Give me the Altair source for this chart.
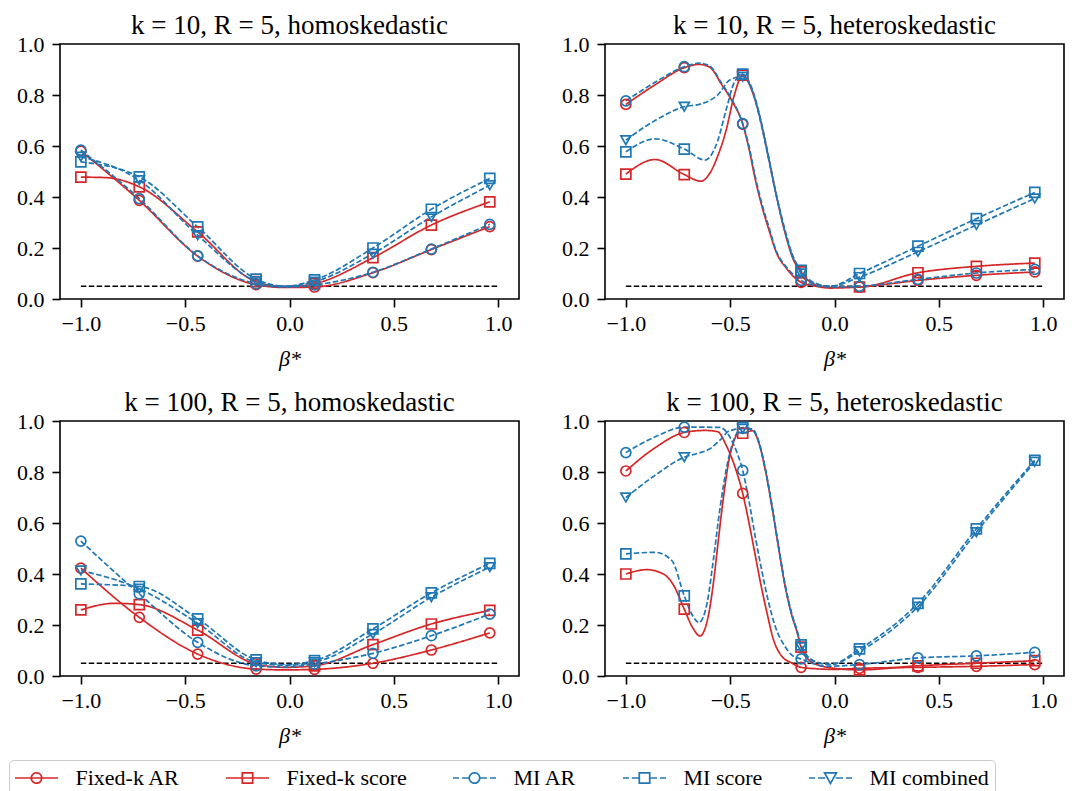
import altair as alt
import pandas as pd

# ---------------- data ----------------
BETA = [-1.0, -0.72, -0.44, -0.16, 0.12, 0.40, 0.68, 0.96]
SERIES = ["Fixed-k AR", "Fixed-k score", "MI AR", "MI score", "MI combined"]
STYLE = ["fk-ar", "fk-score", "mi-ar", "mi-score", "mi-comb"]
COLORS = ["#d62728", "#d62728", "#1f77b4", "#1f77b4", "#1f77b4"]
SHAPES = ["circle", "square", "circle", "square", "triangle-down"]
DASHES = [[1, 0], [1, 0], [5.5, 2.4], [5.5, 2.4], [5.5, 2.4]]
TITLES = ["k = 10, R = 5, homoskedastic", "k = 10, R = 5, heteroskedastic",
          "k = 100, R = 5, homoskedastic", "k = 100, R = 5, heteroskedastic"]
REF_X = [-1.0, 1.0]
REF_Y = [0.05, 0.05]
X_TICKS = [-1.0, -0.5, 0.0, 0.5, 1.0]
Y_TICKS = [0.0, 0.2, 0.4, 0.6, 0.8, 1.0]

# panel A: k=10 homoskedastic (values at marker positions)
A_FK_AR = [0.580, 0.387, 0.168, 0.056, 0.047, 0.103, 0.194, 0.284]
A_FK_SC = [0.478, 0.440, 0.263, 0.068, 0.060, 0.162, 0.290, 0.381]
A_MI_AR = [0.584, 0.394, 0.169, 0.060, 0.055, 0.105, 0.196, 0.293]
A_MI_SC = [0.538, 0.479, 0.283, 0.078, 0.075, 0.200, 0.352, 0.473]
A_MI_CB = [0.558, 0.466, 0.250, 0.070, 0.068, 0.178, 0.322, 0.446]
# extra points read along the curves between markers
A_FK_AR_EX = [(-0.02, 0.045)]
A_FK_SC_EX = [(-0.88, 0.476), (-0.02, 0.048)]
A_MI_AR_EX = [(-0.02, 0.047)]
A_MI_SC_EX = [(-0.02, 0.050)]
A_MI_CB_EX = [(-0.02, 0.049)]

# panel B: k=10 heteroskedastic
B_FK_AR = [0.763, 0.907, 0.686, 0.065, 0.047, 0.073, 0.093, 0.106]
B_FK_SC = [0.490, 0.488, 0.878, 0.106, 0.047, 0.103, 0.128, 0.141]
B_MI_AR = [0.777, 0.911, 0.688, 0.073, 0.050, 0.077, 0.102, 0.116]
B_MI_SC = [0.577, 0.588, 0.882, 0.112, 0.100, 0.207, 0.315, 0.418]
B_MI_CB = [0.623, 0.754, 0.872, 0.100, 0.086, 0.185, 0.290, 0.394]
B_FK_AR_EX = [(-0.86, 0.84), (-0.65, 0.92), (-0.60, 0.91), (-0.54, 0.84), (-0.49, 0.775),
              (-0.41, 0.59), (-0.38, 0.47), (-0.35, 0.37), (-0.31, 0.26), (-0.28, 0.185),
              (-0.23, 0.12), (-0.09, 0.05), (-0.02, 0.043)]
B_FK_SC_EX = [(-0.86, 0.547), (-0.64, 0.462), (-0.60, 0.49), (-0.56, 0.56), (-0.52, 0.66),
              (-0.48, 0.80), (-0.40, 0.826), (-0.36, 0.72), (-0.32, 0.57), (-0.28, 0.41),
              (-0.24, 0.27), (-0.20, 0.16), (-0.10, 0.058), (-0.02, 0.046)]
B_MI_AR_EX = [(-0.86, 0.85), (-0.65, 0.925), (-0.60, 0.915), (-0.54, 0.845), (-0.49, 0.78),
              (-0.41, 0.60), (-0.38, 0.48), (-0.35, 0.38), (-0.31, 0.27), (-0.28, 0.19),
              (-0.23, 0.125), (-0.09, 0.052), (-0.02, 0.047)]
B_MI_SC_EX = [(-0.86, 0.628), (-0.62, 0.545), (-0.56, 0.62), (-0.52, 0.74), (-0.48, 0.85),
              (-0.40, 0.835), (-0.36, 0.725), (-0.32, 0.575), (-0.28, 0.415), (-0.24, 0.28),
              (-0.20, 0.17), (-0.10, 0.065), (-0.02, 0.05)]
B_MI_CB_EX = [(-0.86, 0.70), (-0.64, 0.765), (-0.56, 0.80), (-0.50, 0.86), (-0.40, 0.83),
              (-0.36, 0.715), (-0.32, 0.565), (-0.28, 0.41), (-0.24, 0.27), (-0.20, 0.165),
              (-0.10, 0.062), (-0.02, 0.05)]

# panel C: k=100 homoskedastic
C_FK_AR = [0.423, 0.230, 0.086, 0.027, 0.026, 0.050, 0.102, 0.169]
C_FK_SC = [0.259, 0.280, 0.180, 0.047, 0.040, 0.123, 0.204, 0.257]
C_MI_AR = [0.529, 0.322, 0.132, 0.040, 0.047, 0.089, 0.158, 0.243]
C_MI_SC = [0.361, 0.351, 0.224, 0.063, 0.060, 0.185, 0.326, 0.442]
C_MI_CB = [0.414, 0.342, 0.207, 0.054, 0.054, 0.165, 0.309, 0.427]
C_FK_AR_EX = [(-0.02, 0.024)]
C_FK_SC_EX = [(-0.84, 0.285), (-0.02, 0.034)]
C_MI_AR_EX = [(-0.02, 0.035)]
C_MI_SC_EX = [(-0.02, 0.045)]
C_MI_CB_EX = [(-0.02, 0.042)]

# panel D: k=100 heteroskedastic
D_FK_AR = [0.804, 0.955, 0.716, 0.034, 0.030, 0.034, 0.038, 0.045]
D_FK_SC = [0.400, 0.262, 0.952, 0.113, 0.024, 0.040, 0.050, 0.060]
D_MI_AR = [0.876, 0.976, 0.806, 0.067, 0.045, 0.071, 0.079, 0.093]
D_MI_SC = [0.479, 0.314, 0.974, 0.122, 0.106, 0.285, 0.577, 0.846]
D_MI_CB = [0.700, 0.858, 0.970, 0.113, 0.097, 0.272, 0.564, 0.840]
D_FK_AR_EX = [(-0.86, 0.895), (-0.62, 0.963), (-0.56, 0.958), (-0.52, 0.906), (-0.48, 0.827),
              (-0.417, 0.63), (-0.386, 0.50), (-0.355, 0.367), (-0.324, 0.249),
              (-0.293, 0.144), (-0.254, 0.079), (-0.207, 0.052), (-0.08, 0.028), (0.0, 0.026)]
D_FK_SC_EX = [(-0.90, 0.417), (-0.82, 0.40), (-0.77, 0.354), (-0.68, 0.19), (-0.645, 0.157),
              (-0.603, 0.243), (-0.58, 0.367), (-0.556, 0.538), (-0.533, 0.696),
              (-0.51, 0.827), (-0.486, 0.912), (-0.456, 0.955), (-0.393, 0.962),
              (-0.363, 0.915), (-0.332, 0.81), (-0.30, 0.665), (-0.269, 0.508),
              (-0.239, 0.362), (-0.207, 0.245), (-0.177, 0.165), (-0.10, 0.05), (0.0, 0.03)]
D_MI_AR_EX = [(-0.86, 0.938), (-0.55, 0.975), (-0.502, 0.938), (-0.463, 0.866),
              (-0.409, 0.682), (-0.378, 0.538), (-0.347, 0.407), (-0.316, 0.289),
              (-0.285, 0.197), (-0.239, 0.118), (-0.20, 0.079), (-0.10, 0.048), (-0.04, 0.038)]
D_MI_SC_EX = [(-0.86, 0.485), (-0.78, 0.453), (-0.688, 0.249), (-0.649, 0.21), (-0.61, 0.289),
              (-0.58, 0.459), (-0.549, 0.656), (-0.518, 0.814), (-0.486, 0.918),
              (-0.393, 0.968), (-0.363, 0.92), (-0.332, 0.815), (-0.30, 0.67),
              (-0.269, 0.513), (-0.239, 0.368), (-0.207, 0.25), (-0.177, 0.172),
              (-0.10, 0.06), (-0.02, 0.045)]
D_MI_CB_EX = [(-0.86, 0.787), (-0.657, 0.873), (-0.595, 0.892), (-0.549, 0.925),
              (-0.502, 0.962), (-0.393, 0.965), (-0.363, 0.917), (-0.332, 0.812),
              (-0.30, 0.667), (-0.269, 0.51), (-0.239, 0.365), (-0.207, 0.248),
              (-0.177, 0.168), (-0.10, 0.058), (-0.02, 0.045)]

PANELS = [
    ([A_FK_AR, A_FK_SC, A_MI_AR, A_MI_SC, A_MI_CB],
     [A_FK_AR_EX, A_FK_SC_EX, A_MI_AR_EX, A_MI_SC_EX, A_MI_CB_EX]),
    ([B_FK_AR, B_FK_SC, B_MI_AR, B_MI_SC, B_MI_CB],
     [B_FK_AR_EX, B_FK_SC_EX, B_MI_AR_EX, B_MI_SC_EX, B_MI_CB_EX]),
    ([C_FK_AR, C_FK_SC, C_MI_AR, C_MI_SC, C_MI_CB],
     [C_FK_AR_EX, C_FK_SC_EX, C_MI_AR_EX, C_MI_SC_EX, C_MI_CB_EX]),
    ([D_FK_AR, D_FK_SC, D_MI_AR, D_MI_SC, D_MI_CB],
     [D_FK_AR_EX, D_FK_SC_EX, D_MI_AR_EX, D_MI_SC_EX, D_MI_CB_EX]),
]

# ---------------- style ----------------
FONT = "Liberation Serif"
LW = 1.7
W, H = 459, 255

# legend glyphs: line + marker as custom symbol paths.  Symbol size 22px ->
# 11px per path unit; glyph spans +-1.95 units (43px) around its centre.
U = 11.0
HALF = 21.5 / U
r = 5.2 / U
CIRC = f"M{-r:.3f},0A{r:.3f},{r:.3f},0,1,0,{r:.3f},0A{r:.3f},{r:.3f},0,1,0,{-r:.3f},0"
SQ = f"M{-r:.3f},{-r:.3f}L{r:.3f},{-r:.3f}L{r:.3f},{r:.3f}L{-r:.3f},{r:.3f}Z"
TRI = f"M{-r*1.15:.3f},{-r:.3f}L{r*1.15:.3f},{-r:.3f}L0,{r*1.05:.3f}Z"
SOLID = f"M{-HALF:.3f},0L{HALF:.3f},0"
d1, d2 = 6.0 / U, 3.0 / U
DASHED = (f"M{-HALF:.3f},0L{-HALF + d1:.3f},0M{-HALF + d1 + d2:.3f},0L{-r:.3f},0"
          f"M{r:.3f},0L{HALF - d1 - d2:.3f},0M{HALF - d1:.3f},0L{HALF:.3f},0")
GLYPHS = [SOLID + CIRC, SOLID + SQ, DASHED + CIRC, DASHED + SQ, DASHED + TRI]
shape_expr = " : ".join(f"datum.value === '{s}' ? '{g}'" for s, g in zip(SERIES, GLYPHS)) + " : 'circle'"

legend = alt.Legend(
    title=None, orient="none", legendX=-51, legendY=716,
    direction="horizontal", columns=5,
    symbolSize=22 * 22, symbolStrokeWidth=LW, symbolType=alt.ExprRef(expr=shape_expr),
    symbolDash=[1, 0], symbolFillColor="transparent", symbolOffset=9.5,
    labelFont=FONT, labelFontSize=22, labelColor="black", labelOffset=27,
    columnPadding=42, padding=6, strokeColor="#cccccc", cornerRadius=4,
    fillColor="white",
)

x_enc = alt.X("beta:Q", scale=alt.Scale(domain=[-1.1, 1.1], nice=False, zero=False),
              axis=alt.Axis(values=X_TICKS, format=".1f", title="β*"))
y_enc = alt.Y("value:Q", scale=alt.Scale(domain=[0, 1], nice=False, zero=False),
              axis=alt.Axis(values=Y_TICKS, format=".1f", title=None))

ref_df = pd.DataFrame({"beta": REF_X, "value": REF_Y})


def make_panel(title, marks, extras):
    mrows, lrows = [], []
    for s, st, vals, ex in zip(SERIES, STYLE, marks, extras):
        for b, v in zip(BETA, vals):
            mrows.append({"series": s, "style": st, "beta": b, "value": v})
        for b, v in sorted(list(zip(BETA, vals)) + list(ex)):
            lrows.append({"series": s, "style": st, "beta": b, "value": v})
    mdf = pd.DataFrame(mrows)
    ldf = pd.DataFrame(lrows)

    ref = alt.Chart(ref_df).mark_line(color="black", strokeDash=[5.5, 2.4], strokeWidth=LW).encode(
        x=x_enc, y=y_enc)

    lines = alt.Chart(ldf).mark_line(strokeWidth=LW, interpolate="monotone").encode(
        x=x_enc, y=y_enc,
        color=alt.Color("series:N", scale=alt.Scale(domain=SERIES, range=COLORS), legend=legend),
        strokeDash=alt.StrokeDash("style:N", scale=alt.Scale(domain=STYLE, range=DASHES), legend=None),
        order=alt.Order("beta:Q"),
    )
    pts = alt.Chart(mdf).mark_point(filled=False, size=100, strokeWidth=LW, opacity=1).encode(
        x=x_enc, y=y_enc,
        stroke=alt.Stroke("style:N", scale=alt.Scale(domain=STYLE, range=COLORS), legend=None),
        shape=alt.Shape("style:N", scale=alt.Scale(domain=STYLE, range=SHAPES), legend=None),
    )
    return alt.layer(ref, lines, pts).properties(
        width=W, height=H,
        title=alt.Title(title, font=FONT, fontSize=27, fontWeight="normal", color="black", offset=-7),
    )


panels = [make_panel(t, m, e) for t, (m, e) in zip(TITLES, PANELS)]

chart = alt.concat(*panels, columns=2, spacing=alt.RowColnumber(row=18, column=40)).resolve_scale(
    color="shared", stroke="shared", shape="shared", strokeDash="shared"
).properties(
    padding={"left": 0, "top": 3, "right": 5, "bottom": 0},
).configure_view(
    stroke="black", strokeWidth=1.6,
).configure_axis(
    domain=False, grid=False, tickColor="black", tickSize=8, tickWidth=1.6,
    labelFont=FONT, labelFontSize=22, labelColor="black",
    titleFont=FONT, titleFontSize=22, titleFontWeight="normal", titleColor="black",
).configure_axisX(titleFontStyle="italic", labelPadding=6, titlePadding=14
).configure_axisY(labelPadding=8)

chart.save("out.html", embed_options={"renderer": "svg", "actions": False})
